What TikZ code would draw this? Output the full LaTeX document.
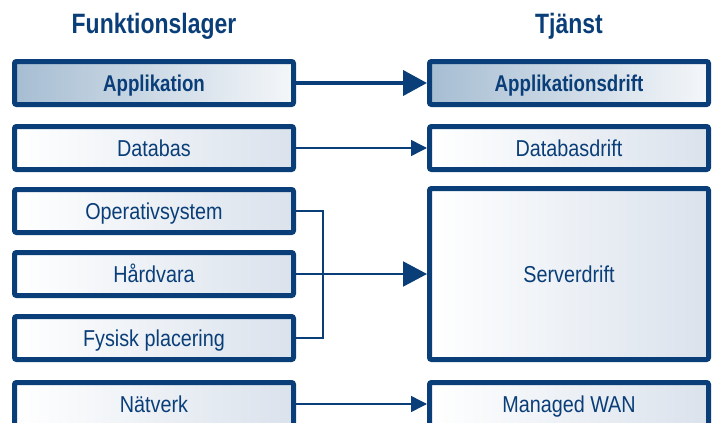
\documentclass[tikz,border=0pt]{standalone}
\usepackage{fontspec}
\setmainfont{Liberation Sans}[FakeStretch=0.82]
\newfontfamily\rutfont{Liberation Sans}[FakeStretch=0.86]
\usetikzlibrary{arrows.meta,positioning}
\definecolor{lagerblue}{RGB}{10,62,120}
\definecolor{lagerfade}{RGB}{166,189,210}
\definecolor{lagerpale}{RGB}{218,226,236}
\tikzset{
  basic/.style    = {draw=lagerblue, line width=5pt, rounded corners=2pt, rectangle,
                     text=lagerblue, font=\rutfont\fontsize{23}{25}\selectfont,
                     minimum width=279pt, minimum height=43pt, inner sep=0pt,
                     text height=16pt, text depth=0pt},
  focus/.style    = {basic, left color=lagerfade, right color=lagerpale!30,
                     font=\bfseries\fontsize{22.8}{25}\selectfont},
  lagerbox/.style = {basic, left color=white, right color=lagerpale},
  rubrik/.style   = {text=lagerblue, font=\bfseries\fontsize{28}{30}\selectfont, anchor=base},
  tunn/.style     = {draw=lagerblue, line width=1.5pt},
  link/.style     = {tunn, -{Triangle[length=16pt,width=16pt]}},
  biglink/.style  = {draw=lagerblue, -{Triangle[length=24pt,width=25pt]}}
}
\begin{document}
\begin{tikzpicture}[x=1pt,y=-1pt]
\clip (0,0) rectangle (715,423);

% rubriker
\node[rubrik] (tfunk) at (154,33) {Funktionslager};
\node[rubrik] (ttjanst) at (569,33) {Tjänst};

% funktionslager, relativt placerade
\node[focus] (app) at (154,83) {Applikation};
\node[lagerbox, below=17pt of app] (dat) {Databas};
\node[lagerbox, below=15pt of dat] (os) {Operativsystem};
\node[lagerbox, below=15pt of os] (hw) {Hårdvara};
\node[lagerbox, below=16pt of hw] (fys) {Fysisk placering};
\node[lagerbox, below=18pt of fys] (nat) {Nätverk};

% tjänster
\node[focus, right=131pt of app] (appd) {Applikationsdrift};
\node[lagerbox, right=131pt of dat] (datd) {Databasdrift};
\node[lagerbox, right=131pt of hw, minimum height=171pt] (srv) {Serverdrift};
\node[lagerbox, right=131pt of nat] (wan) {Managed WAN};

% pilar
\draw[biglink, line width=4pt] (app.east) -- (appd.west);
\draw[link] (dat.east) -- (datd.west);
\draw[link] (nat.east) -- (wan.west);

\coordinate (knut) at ([xshift=27pt]hw.east);
\draw[tunn] (os.east) -| (knut |- fys.east) -- (fys.east);
\draw[biglink, line width=2pt] (hw.east) -- (srv.west);
\end{tikzpicture}
\end{document}
